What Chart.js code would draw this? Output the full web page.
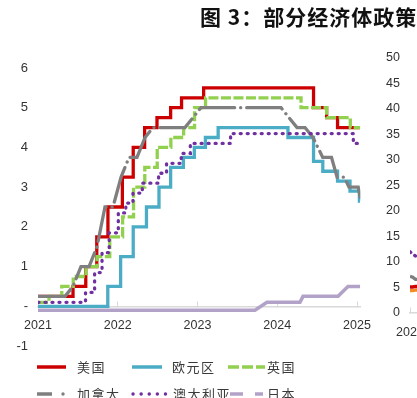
<!DOCTYPE html>
<html><head><meta charset="utf-8">
<script src="https://cdn.jsdelivr.net/npm/chart.js@4.4.1/dist/chart.umd.min.js"></script>
<style>
html,body{margin:0;padding:0;background:#fff;width:417px;height:398px;overflow:hidden;position:relative;}
#main{position:absolute;left:0;top:0;}
#side{position:absolute;left:360px;top:0;}
.title{position:absolute;left:200px;top:3px;font-family:"Noto Sans CJK SC";font-weight:bold;font-size:21px;line-height:26px;letter-spacing:1px;white-space:nowrap;color:#111;}
.leg{position:absolute;font-family:"Noto Sans CJK SC";font-size:13px;line-height:16px;letter-spacing:1.5px;color:#3a3a3a;white-space:nowrap;}
svg.ls{position:absolute;left:0;top:0;}
</style></head>
<body>
<canvas id="main" width="417" height="398"></canvas>
<canvas id="side" width="300" height="398"></canvas>
<div class="title">图 3：部分经济体政策</div>
<svg class="ls" width="417" height="398">
  <line x1="37" y1="367" x2="66" y2="367" stroke="#CC0000" stroke-width="3.5"/>
  <line x1="132" y1="367" x2="162" y2="367" stroke="#4BACC6" stroke-width="3.5"/>
  <line x1="228" y1="367" x2="265" y2="367" stroke="#92D050" stroke-width="3.5" stroke-dasharray="11 3"/>
  <line x1="37" y1="394" x2="52" y2="394" stroke="#7F7F7F" stroke-width="3.5"/>
  <circle cx="63" cy="394" r="1.7" fill="#7F7F7F"/>
  <line x1="133" y1="394" x2="167" y2="394" stroke="#7030A0" stroke-width="3.4" stroke-linecap="round" stroke-dasharray="0.1 8"/>
  <line x1="230" y1="394" x2="243" y2="394" stroke="#B3A2C7" stroke-width="3.5"/>
  <line x1="255" y1="394" x2="263" y2="394" stroke="#B3A2C7" stroke-width="3.5"/>
</svg>
<div class="leg" style="left:77px;top:359px;">美国</div>
<div class="leg" style="left:172px;top:359px;">欧元区</div>
<div class="leg" style="left:267px;top:359px;">英国</div>
<div class="leg" style="left:77px;top:386px;">加拿大</div>
<div class="leg" style="left:173px;top:386px;">澳大利亚</div>
<div class="leg" style="left:267px;top:386px;">日本</div>
<script>
// ---- axis ticks ----
const xTicks = [2021, 2022, 2023, 2024, 2025];
const yTicks = [-1, 0, 1, 2, 3, 4, 5, 6];
const sideXTicks = [2021, 2022, 2023, 2024, 2025];
const sideYTicks = [0, 5, 10, 15, 20, 25, 30, 35, 40, 45, 50];

// ---- series (x in axis units, y = policy rate %) ----
const usX = [2021.0, 2021.439, 2021.599, 2021.737, 2021.877, 2022.058, 2022.194, 2022.337, 2022.492, 2022.663, 2022.800, 2023.077, 2024.455, 2024.619, 2024.756, 2025.04];
const usY = [0.25, 0.5, 1.0, 1.75, 2.5, 3.25, 4.0, 4.5, 4.75, 5.0, 5.25, 5.5, 5.0, 4.75, 4.5, 4.5];

const euX = [2021.0, 2021.875, 2022.036, 2022.194, 2022.360, 2022.517, 2022.663, 2022.823, 2022.960, 2023.099, 2023.259, 2024.134, 2024.455, 2024.571, 2024.756, 2024.912, 2025.030, 2025.04];
const euY = [0, 0.5, 1.25, 2.0, 2.5, 3.0, 3.5, 3.75, 4.0, 4.25, 4.5, 4.25, 3.65, 3.4, 3.15, 2.9, 2.65, 2.65];

const ukX = [2021.0, 2021.138, 2021.298, 2021.442, 2021.602, 2021.740, 2021.900, 2022.061, 2022.198, 2022.339, 2022.495, 2022.666, 2022.826, 2022.963, 2023.101, 2024.298, 2024.619, 2024.916, 2025.04];
const ukY = [0.1, 0.25, 0.5, 0.75, 1.0, 1.25, 1.75, 2.25, 3.0, 3.5, 4.0, 4.25, 4.5, 5.0, 5.25, 5.0, 4.75, 4.5, 4.5];

const caX = [2021.0, 2021.339, 2021.439, 2021.539, 2021.640, 2021.740, 2021.840, 2021.940, 2022.041, 2022.141, 2022.241, 2022.342, 2022.442, 2022.843, 2022.943, 2023.044, 2024.047, 2024.147, 2024.248, 2024.348, 2024.448, 2024.570, 2024.680, 2024.750, 2024.840, 2024.900, 2025.015, 2025.04];
const caY = [0.25, 0.25, 0.5, 1.0, 1.0, 1.5, 2.5, 2.5, 3.25, 3.75, 3.75, 4.25, 4.5, 4.5, 4.75, 5.0, 5.0, 4.75, 4.5, 4.5, 4.25, 3.75, 3.75, 3.25, 3.25, 3.0, 3.0, 2.75];

const auX = [2021.0, 2021.596, 2021.710, 2021.803, 2021.893, 2022.007, 2022.101, 2022.191, 2022.308, 2022.512, 2022.612, 2022.796, 2022.910, 2023.415, 2024.954, 2025.04];
const auY = [0.1, 0.35, 0.85, 1.35, 1.85, 2.35, 2.6, 2.85, 3.1, 3.35, 3.6, 3.85, 4.1, 4.35, 4.1, 4.1];

const jpX = [2021.0, 2023.721, 2023.871, 2024.285, 2024.323, 2024.762, 2024.887, 2025.04];
const jpY = [-0.1, -0.1, 0.1, 0.1, 0.25, 0.25, 0.5, 0.5];

// second (partly visible) chart on the right
const sideX = [2021.0, 2021.05, 2021.1, 2021.15];
const sidePurple = [12.0, 11.5, 11.2, 11.0];
const sideGrey = [7.2, 7.0, 6.6, 6.6];
const sideRed = [5.1, 5.1, 5.2, 5.2];
const sideOrange = [4.4, 4.4, 4.5, 4.5];

function pts(xs, ys) { return xs.map((x, i) => ({ x: x, y: ys[i] })); }

Chart.defaults.font.family = "'Liberation Sans', Arial, sans-serif";
Chart.defaults.color = '#333';

const common = { pointRadius: 0, pointHoverRadius: 0, fill: false, tension: 0, borderWidth: 3.3 };

new Chart(document.getElementById('main'), {
  type: 'line',
  data: {
    datasets: [
      Object.assign({}, common, { label: '美国', data: pts(usX, usY), borderColor: '#CC0000', stepped: 'before', order: 6 }),
      Object.assign({}, common, { label: '欧元区', data: pts(euX, euY), borderColor: '#4BACC6', stepped: 'before', order: 5 }),
      Object.assign({}, common, { label: '英国', data: pts(ukX, ukY), borderColor: '#92D050', stepped: 'before', borderDash: [10, 2.5], order: 4 }),
      Object.assign({}, common, { label: '加拿大', data: pts(caX, caY), borderColor: '#7F7F7F', borderDash: [36, 6, 0.1, 6], borderCapStyle: 'round', order: 3 }),
      Object.assign({}, common, { label: '澳大利亚', data: pts(auX, auY), borderColor: '#7030A0', stepped: 'before', borderDash: [1, 6], borderCapStyle: 'round', borderWidth: 3.3, order: 2 }),
      Object.assign({}, common, { label: '日本', data: pts(jpX, jpY), borderColor: '#B3A2C7', borderWidth: 3.5, order: 1 })
    ]
  },
  options: {
    responsive: false,
    animation: false,
    layout: { padding: { left: 0, right: 56.8, top: 68, bottom: 52 } },
    plugins: { legend: { display: false }, tooltip: { enabled: false } },
    scales: {
      x: {
        type: 'linear', position: { y: 0 }, min: 2021, max: 2025.04,
        afterFit: s => { s.height = 0; },
        afterBuildTicks: s => { s.ticks = xTicks.map(v => ({ value: v })); },
        ticks: { padding: 17.5, color: '#333', font: { size: 12.5 }, maxRotation: 0, autoSkip: false, callback: v => String(v) },
        grid: { display: true, drawOnChartArea: false, drawTicks: true, tickLength: -6, color: '#d9d9d9', tickColor: '#d9d9d9' },
        border: { display: true, color: '#d9d9d9', width: 1.5 }
      },
      y: {
        type: 'linear', min: -1, max: 6,
        afterFit: s => { s.width = 38; },
        afterBuildTicks: s => { s.ticks = yTicks.map(v => ({ value: v })); },
        ticks: { padding: 10, color: '#333', font: { size: 13 }, callback: v => (v === 0 ? '-' : String(v)) },
        grid: { display: false, drawTicks: false },
        border: { display: false }
      }
    }
  }
});

new Chart(document.getElementById('side'), {
  type: 'line',
  data: {
    datasets: [
      Object.assign({}, common, { data: pts(sideX, sidePurple), borderColor: '#7030A0', borderDash: [1, 5], borderCapStyle: 'round' }),
      Object.assign({}, common, { data: pts(sideX, sideGrey), borderColor: '#7F7F7F' }),
      Object.assign({}, common, { data: pts(sideX, sideRed), borderColor: '#CC0000' }),
      Object.assign({}, common, { data: pts(sideX, sideOrange), borderColor: '#F28C28' })
    ]
  },
  options: {
    responsive: false,
    animation: false,
    layout: { padding: { left: 0, right: 10, top: 58, bottom: 85 } },
    plugins: { legend: { display: false }, tooltip: { enabled: false } },
    scales: {
      x: {
        type: 'linear', position: { y: 0 }, min: 2021, max: 2025,
        afterFit: s => { s.height = 0; },
        afterBuildTicks: s => { s.ticks = sideXTicks.map(v => ({ value: v })); },
        ticks: { padding: 18.5, color: '#333', font: { size: 12.5 }, maxRotation: 0, autoSkip: false, callback: v => String(v) },
        grid: { display: true, drawOnChartArea: false, drawTicks: true, tickLength: -6, color: '#d9d9d9', tickColor: '#d9d9d9' },
        border: { display: true, color: '#d9d9d9', width: 1.5 }
      },
      y: {
        type: 'linear', min: 0, max: 50,
        afterFit: s => { s.width = 50; },
        afterBuildTicks: s => { s.ticks = sideYTicks.map(v => ({ value: v })); },
        ticks: { padding: 10, color: '#333', font: { size: 12.5 } },
        grid: { display: false, drawTicks: false },
        border: { display: false }
      }
    }
  }
});
</script>
</body></html>
